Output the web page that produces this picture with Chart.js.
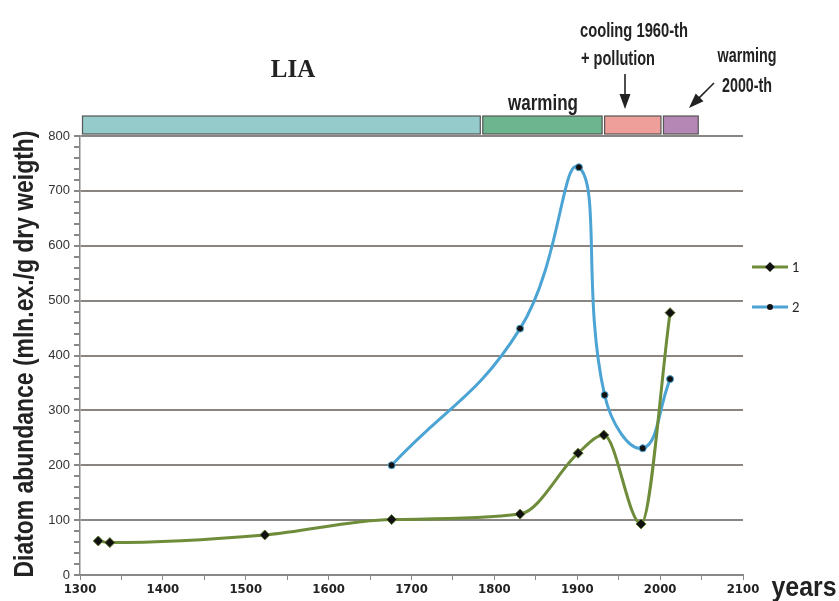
<html>
<head>
<script src="https://cdn.jsdelivr.net/npm/chart.js@4.4.0/dist/chart.umd.min.js"></script>
<style>
  body { margin: 0; background: #fff; }
</style>
</head>
<body>
<canvas id="diatomChart" width="839" height="601"></canvas>
<script>
  // series 1 and 2
  var years1 = [1322, 1336, 1523, 1676, 1831, 1901, 1932, 1977, 2012];
  var abundance1 = [62, 59, 73, 101, 111, 222, 255, 93, 478];
  var years2 = [1676, 1831, 1902, 1933, 1979, 2012];
  var abundance2 = [200, 449, 743, 328, 231, 357];
  var seriesNames = ['1', '2'];

  // climate periods shown as bars over the plot
  var periodStart = [1303, 1786, 1933, 2004];
  var periodEnd = [1783, 1930, 2001, 2046];
  var periodColors = ['#95CBCB', '#6DB58F', '#EF9F99', '#B487B5'];

  var green = '#6E8C3A';
  var blue = '#4BA4D4';

  function toPoints(xs, ys) {
    return xs.map(function (x, i) { return { x: x, y: ys[i] }; });
  }

  // condensed look: squeeze a normal font to the wanted width (y = baseline)
  function narrowText(ctx, text, cx, y, size, width, bold) {
    ctx.save();
    ctx.font = (bold ? 'bold ' : '') + size + "px 'Liberation Sans', Arial, sans-serif";
    var w = ctx.measureText(text).width;
    ctx.translate(cx, y);
    ctx.scale(width / w, 1);
    ctx.textAlign = 'center';
    ctx.textBaseline = 'alphabetic';
    ctx.fillText(text, 0, 0);
    ctx.restore();
  }

  var overlay = {
    id: 'overlay',
    afterDraw: function (chart) {
      var ctx = chart.ctx;
      var xs = chart.scales.x;
      var area = chart.chartArea;
      ctx.save();

      // period bars
      var top = area.top - 20;
      for (var i = 0; i < periodStart.length; i++) {
        var l = xs.getPixelForValue(periodStart[i]);
        var r = xs.getPixelForValue(periodEnd[i]);
        ctx.fillStyle = periodColors[i];
        ctx.fillRect(l, top, r - l, 18);
        ctx.strokeStyle = '#555';
        ctx.lineWidth = 1.2;
        ctx.strokeRect(l, top, r - l, 18);
      }

      // labels
      ctx.fillStyle = '#222';
      ctx.textAlign = 'center';
      ctx.textBaseline = 'alphabetic';
      ctx.font = "bold 25px 'Liberation Serif', serif";
      ctx.fillText('LIA', 293, 77);
      narrowText(ctx, 'warming', 543, 110, 22, 70, true);
      narrowText(ctx, 'cooling 1960-th', 634, 37, 21, 108, true);
      narrowText(ctx, '+ pollution', 618, 65, 21, 74, true);
      narrowText(ctx, 'warming', 747, 62, 21, 59, true);
      narrowText(ctx, '2000-th', 747, 92, 21, 50, true);

      // arrows
      function arrow(x1, y1, x2, y2) {
        var a = Math.atan2(y2 - y1, x2 - x1);
        ctx.strokeStyle = '#222';
        ctx.fillStyle = '#222';
        ctx.lineWidth = 1.6;
        ctx.beginPath();
        ctx.moveTo(x1, y1);
        ctx.lineTo(x2 - 10 * Math.cos(a), y2 - 10 * Math.sin(a));
        ctx.stroke();
        ctx.beginPath();
        ctx.moveTo(x2, y2);
        ctx.lineTo(x2 - 15 * Math.cos(a) + 5.5 * Math.sin(a), y2 - 15 * Math.sin(a) - 5.5 * Math.cos(a));
        ctx.lineTo(x2 - 15 * Math.cos(a) - 5.5 * Math.sin(a), y2 - 15 * Math.sin(a) + 5.5 * Math.cos(a));
        ctx.closePath();
        ctx.fill();
      }
      arrow(625, 74, 625, 109);
      arrow(714, 83, 689, 108);

      // y axis title
      ctx.save();
      ctx.translate(33, 354);
      ctx.rotate(-Math.PI / 2);
      ctx.fillStyle = '#222';
      narrowText(ctx, 'Diatom abundance (mln.ex./g dry weigth)', 0, 0, 27, 447, true);
      ctx.restore();

      // x axis title
      ctx.fillStyle = '#222';
      narrowText(ctx, 'years', 804, 596, 27, 65, true);

      // legend
      var legendY = [267, 307];
      var legendCol = [green, blue];
      for (var k = 0; k < 2; k++) {
        ctx.strokeStyle = legendCol[k];
        ctx.lineWidth = 3;
        ctx.beginPath();
        ctx.moveTo(752, legendY[k]);
        ctx.lineTo(788, legendY[k]);
        ctx.stroke();
        ctx.fillStyle = '#111';
        ctx.beginPath();
        if (k == 0) {
          ctx.moveTo(770, legendY[k] - 5);
          ctx.lineTo(775, legendY[k]);
          ctx.lineTo(770, legendY[k] + 5);
          ctx.lineTo(765, legendY[k]);
          ctx.closePath();
        } else {
          ctx.arc(770, legendY[k], 3, 0, Math.PI * 2);
        }
        ctx.fill();
        ctx.fillStyle = '#222';
        ctx.textAlign = 'left';
        ctx.textBaseline = 'middle';
        ctx.font = '13px Lato, sans-serif';
        ctx.fillText(seriesNames[k], 792, legendY[k] + 1);
      }
      ctx.restore();
    }
  };

  var chart = new Chart(document.getElementById('diatomChart'), {
    type: 'line',
    data: {
      datasets: [
        {
          label: seriesNames[0],
          data: toPoints(years1, abundance1),
          borderColor: green,
          borderWidth: 3,
          backgroundColor: '#111',
          pointStyle: 'rectRot',
          pointRadius: 5,
          pointBorderColor: '#5f7a30',
          pointBorderWidth: 1,
          cubicInterpolationMode: 'monotone',
          fill: false
        },
        {
          label: seriesNames[1],
          data: toPoints(years2, abundance2),
          borderColor: blue,
          borderWidth: 3,
          backgroundColor: '#111',
          pointStyle: 'circle',
          pointRadius: 3.5,
          pointBorderColor: blue,
          pointBorderWidth: 1,
          tension: 0.45,
          fill: false
        }
      ]
    },
    options: {
      responsive: false,
      animation: false,
      layout: { padding: { left: 0, top: 136, right: 96, bottom: 0 } },
      plugins: { legend: { display: false }, tooltip: { enabled: false } },
      scales: {
        x: {
          type: 'linear',
          min: 1300,
          max: 2100,
          afterFit: function (s) { s.height = 26; },
          border: { color: '#888', width: 2 },
          grid: { drawOnChartArea: false, tickLength: 5, color: '#888', lineWidth: 1 },
          ticks: {
            stepSize: 50,
            autoSkip: false,
            maxRotation: 0,
            padding: 2,
            color: '#222',
            font: { family: "'DejaVu Sans Condensed', 'Liberation Sans', sans-serif", size: 13, weight: 'bold' },
            callback: function (v) { return v % 100 === 0 ? v : ''; }
          }
        },
        y: {
          min: 0,
          max: 800,
          afterFit: function (s) { s.width = 80; },
          border: { color: '#888', width: 1.5 },
          grid: {
            tickLength: 6,
            lineWidth: 2,
            color: function (c) { return c.tick && c.tick.value % 100 === 0 ? '#8a8580' : 'rgba(0,0,0,0)'; },
            tickColor: '#888'
          },
          ticks: {
            stepSize: 20,
            autoSkip: false,
            padding: 4,
            color: '#333',
            font: { family: "Arial, 'Liberation Sans', sans-serif", size: 13 },
            callback: function (v) { return v % 100 === 0 ? v : ''; }
          }
        }
      }
    },
    plugins: [overlay]
  });
</script>
</body>
</html>
